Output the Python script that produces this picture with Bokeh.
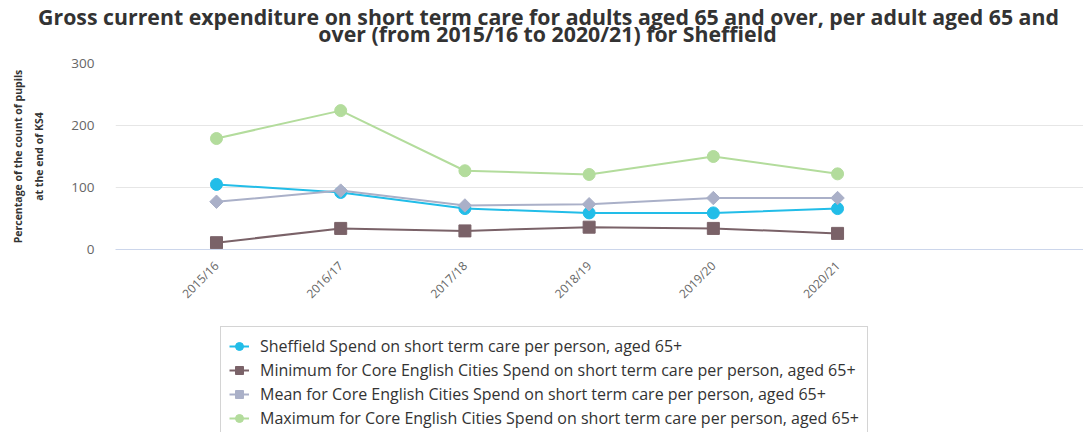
from math import pi
from bokeh.plotting import figure
from bokeh.layouts import column
from bokeh.models import Range1d, FixedTicker, Legend, LegendItem, Label
from bokeh.embed import file_html
from bokeh.resources import INLINE

categories = ["2015/16", "2016/17", "2017/18", "2018/19", "2019/20", "2020/21"]
sheffield = [105, 92, 66, 59, 59, 66]
minimum = [11, 34, 30, 36, 34, 26]
mean = [77, 95, 71, 73, 83, 83]
maximum = [179, 224, 127, 121, 150, 122]

title_lines = [
    "Gross current expenditure on short term care for adults aged 65 and over, per adult aged 65 and",
    "over (from 2015/16 to 2020/21) for Sheffield",
]
names = [
    "Sheffield Spend on short term care per person, aged 65+",
    "Minimum for Core English Cities Spend on short term care per person, aged 65+",
    "Mean for Core English Cities Spend on short term care per person, aged 65+",
    "Maximum for Core English Cities Spend on short term care per person, aged 65+",
]
colors = ["#22bde8", "#7a6268", "#aab0c8", "#b3dc9c"]
markers = [("circle", 12, 0), ("square", 12, 0), ("square", 9.5, pi / 4), ("circle", 12, 0)]
y_ticks = [0, 100, 200, 300]

W = 1083
TOP_H = 55
MAIN_H = 263
LEG_H = 432 - TOP_H - MAIN_H

# ---- title strip ----
pt = figure(width=W, height=TOP_H, output_backend="svg", toolbar_location=None,
            x_range=Range1d(0, W), y_range=Range1d(0, TOP_H),
            min_border=0, x_axis_type=None, y_axis_type=None)
pt.frame_align = False
pt.outline_line_color = None
pt.grid.visible = False
for txt, base, cx in zip(title_lines, [16, 33], [548, 547]):
    pt.add_layout(Label(x=cx, y=TOP_H - base, x_units="screen", y_units="screen",
                        text=txt, text_align="center", text_baseline="alphabetic",
                        text_font="Open Sans", text_font_style="bold",
                        text_font_size="21.3px", text_color="#333333"))

# ---- main chart ----
xs = list(range(len(categories)))
p = figure(width=W, height=MAIN_H, output_backend="svg", toolbar_location=None,
           x_range=Range1d(-0.813, 6.98), y_range=Range1d(0, 300),
           min_border_left=115, min_border_right=0, min_border_top=8, min_border_bottom=69)
p.frame_align = False
p.outline_line_color = None

p.xgrid.grid_line_color = None
p.ygrid.grid_line_color = "#e6e6e6"
p.ygrid.ticker = FixedTicker(ticks=y_ticks)

p.yaxis.ticker = FixedTicker(ticks=y_ticks)
p.yaxis.axis_line_color = None
p.yaxis.major_tick_line_color = None
p.yaxis.minor_tick_line_color = None
p.yaxis.major_label_text_font = "Open Sans"
p.yaxis.major_label_text_font_size = "13.5px"
p.yaxis.major_label_text_color = "#666666"
p.yaxis.major_label_standoff = 15
p.yaxis.axis_label = "Percentage of the count of pupils\nat the end of KS4"
p.yaxis.axis_label_text_font = "Open Sans"
p.yaxis.axis_label_text_font_style = "bold"
p.yaxis.axis_label_text_font_size = "10.5px"
p.yaxis.axis_label_text_line_height = 1.5
p.yaxis.axis_label_text_color = "#333333"
p.yaxis.axis_label_standoff = 22

p.xaxis.ticker = FixedTicker(ticks=xs)
p.xaxis.major_label_overrides = {i: c for i, c in enumerate(categories)}
p.xaxis.axis_line_color = "#ccd6eb"
p.xaxis.major_tick_line_color = None
p.xaxis.minor_tick_line_color = None
p.xaxis.major_label_orientation = pi / 4
p.xaxis.major_label_text_font = "Open Sans"
p.xaxis.major_label_text_font_size = "12px"
p.xaxis.major_label_text_color = "#666666"
p.xaxis.major_label_standoff = 8

series = [sheffield, minimum, mean, maximum]
for col, (mk, sz, ang), ys in zip(colors, markers, series):
    p.line(xs, ys, line_color=col, line_width=2)
    p.scatter(xs, ys, marker=mk, size=sz, angle=ang, fill_color=col, line_color=col)

# ---- legend strip (series drawn out of view, only the legend shows) ----
pl = figure(width=W, height=LEG_H, output_backend="svg", toolbar_location=None,
            x_range=Range1d(0, 1), y_range=Range1d(-1001, -1000),
            min_border=0, x_axis_type=None, y_axis_type=None)
pl.frame_align = False
pl.outline_line_color = None
pl.grid.visible = False
items = []
for name, col, (mk, sz, ang), ys in zip(names, colors, markers, series):
    l = pl.line(xs, ys, line_color=col, line_width=2)
    s = pl.scatter(xs, ys, marker=mk, size=sz, angle=ang, fill_color=col, line_color=col)
    items.append(LegendItem(label=name, renderers=[l, s]))

legend = Legend(items=items, location=(220, -6))
legend.label_text_font = "Open Sans"
legend.label_text_font_size = "16px"
legend.label_text_color = "#333333"
legend.border_line_color = "#aaaaaa"
legend.border_line_width = 1
legend.background_fill_color = "white"
legend.background_fill_alpha = 1
legend.padding = 8
legend.spacing = 2
legend.glyph_height = 20
legend.glyph_width = 20
legend.label_standoff = 11
legend.label_height = 20
legend.margin = 0
pl.add_layout(legend, "center")

layout = column(pt, p, pl, spacing=0)
open("out.html", "w").write(file_html(layout, INLINE))
